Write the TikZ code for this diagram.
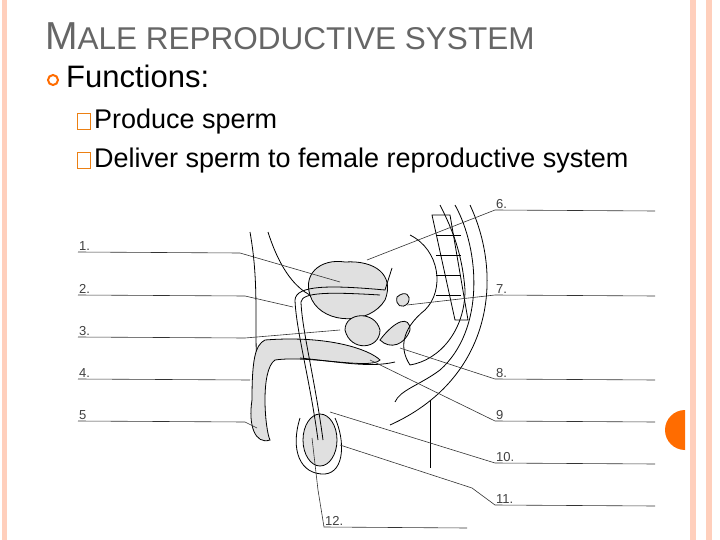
\documentclass[tikz,border=0pt]{standalone}
\usepackage{fontspec}
\setmainfont{Liberation Sans}
\begin{document}
\begin{tikzpicture}[x=1pt,y=-1pt,
  lbl/.style={anchor=south west,inner sep=1pt,font=\fontsize{13}{13}\selectfont,text=black!75},
  lead/.style={draw=black!80,line width=0.6pt},
  org/.style={draw=black,line width=0.8pt},
  dots/.style={org,fill=black!12}]
\useasboundingbox (0,0) rectangle (720,540);
\fill[white] (0,0) rectangle (720,540);
% borders
\fill[orange!25!pink!60] (2,0) rectangle (7,540);
\fill[orange!25!pink!60] (690,0) rectangle (696,540);
\fill[orange!25!pink!60] (706,0) rectangle (712,540);
\fill[orange!85!red] (685,450) arc (90:270:20) -- cycle;
% title
\node[anchor=base west,inner sep=0,text=black!60] (title) at (45,50)
 {\fontsize{39}{39}\selectfont M\fontsize{31.5}{31.5}\selectfont ALE REPRODUCTIVE SYSTEM};
\draw[orange!85!red,line width=2pt] (53,80) circle (5);
\node[anchor=base west,inner sep=0] (fun) at (66,88) {\fontsize{31}{31}\selectfont Functions:};
\draw[orange!70!brown,line width=1pt] (77,114) rectangle (90,130);
\node[anchor=base west,inner sep=0] (p1) at (94,129) {\fontsize{27}{27}\selectfont Produce sperm};
\draw[orange!70!brown,line width=1pt] (77,153) rectangle (90,169);
\node[anchor=base west,inner sep=0] (p2) at (94,168) {\fontsize{27}{27}\selectfont Deliver sperm to female reproductive system};
% anatomy (simplified)
\draw[org] (250,232) .. controls (262,300) and (250,340) .. (262,420);
\draw[org] (268,232) .. controls (280,270) and (300,300) .. (330,300);
\draw[dots] (345,262) .. controls (320,258) and (300,275) .. (312,300) .. controls (325,325) and (370,325) .. (385,300) .. controls (395,275) and (375,260) .. (345,262) -- cycle;
\draw[dots] (345,330) .. controls (345,312) and (375,310) .. (380,330) .. controls (380,350) and (350,352) .. (345,330) -- cycle;
\draw[dots] (380,340) .. controls (395,320) and (410,315) .. (410,330) .. controls (405,345) and (390,350) .. (380,340) -- cycle;
\draw[dots] (397,297) .. controls (405,290) and (412,295) .. (408,303) .. controls (402,310) and (395,305) .. (397,297) -- cycle;
% penis
\draw[dots] (265,340) .. controls (330,335) and (370,350) .. (380,360) .. controls (370,370) and (310,355) .. (275,360) .. controls (260,370) and (265,430) .. (270,440) .. controls (255,445) and (248,425) .. (252,400) .. controls (252,360) and (255,345) .. (265,340) -- cycle;
\draw[org] (300,358) .. controls (340,362) and (370,368) .. (395,362);
% testis
\draw[dots] (320,440) ellipse (17 and 26);
\draw[org] (300,418) .. controls (290,450) and (300,475) .. (325,474) .. controls (345,472) and (345,440) .. (335,418);
% vas deferens
\draw[org] (318,440) .. controls (310,380) and (296,330) .. (295,300) .. controls (296,285) and (330,285) .. (385,290) -- (392,268);
\draw[org] (323,440) .. controls (315,380) and (302,330) .. (301,302) .. controls (302,292) and (330,292) .. (380,295);
% rectum & spine
\draw[org] (410,235) .. controls (440,250) and (445,290) .. (425,310) .. controls (400,330) and (400,350) .. (410,365) .. controls (440,360) and (465,330) .. (465,290) .. controls (462,250) and (450,225) .. (440,205);
\draw[org] (455,205) .. controls (480,250) and (485,330) .. (440,370) .. controls (420,385) and (400,390) .. (395,402);
\draw[org] (432,215) -- (450,215) -- (468,320) -- (455,320) -- cycle;
\foreach \y in {235,255,275,295} \draw[org] (436,\y) -- (461,\y);
\draw[org] (470,205) .. controls (505,280) and (490,380) .. (390,425);
\draw[org] (430,400) -- (430,468);
% left labels
\node[lbl] (l1) at (78,252) {1.};
\node[lbl] (l2) at (78,295) {2.};
\node[lbl] (l3) at (78,337) {3.};
\node[lbl] (l4) at (78,379) {4.};
\node[lbl] (l5) at (78,421) {5};
\coordinate (e1) at (240,253); \coordinate (t1) at (340,282);
\coordinate (e2) at (245,296); \coordinate (t2) at (293,307);
\coordinate (e3) at (245,338); \coordinate (t3) at (340,330);
\coordinate (e4) at (250,380);
\coordinate (e5) at (245,422); \coordinate (t5) at (257,428);
\draw[lead] (l1.south west) -- (e1) -- (t1);
\draw[lead] (l2.south west) -- (e2) -- (t2);
\draw[lead] (l3.south west) -- (e3) -- (t3);
\draw[lead] (l4.south west) -- (e4);
\draw[lead] (l5.south west) -- (e5) -- (t5);
% right labels
\node[lbl] (r6) at (495,210) {6.};
\node[lbl] (r7) at (495,295) {7.};
\node[lbl] (r8) at (495,379) {8.};
\node[lbl] (r9) at (495,421) {9};
\node[lbl] (r10) at (495,463) {10.};
\node[lbl] (r11) at (495,505) {11.};
\node[lbl] (r12) at (324,527) {12.};
\coordinate (f6) at (655,211); \coordinate (f7) at (655,296); \coordinate (f8) at (655,380);
\coordinate (f9) at (655,422); \coordinate (f10) at (655,464); \coordinate (f11) at (655,506);
\coordinate (f12) at (467,528);
\draw[lead] (f6) -- (r6.south west) -- (367,260);
\draw[lead] (f7) -- (r7.south west) -- (407,305);
\draw[lead] (f8) -- (r8.south west) -- (400,348);
\draw[lead] (f9) -- (r9.south west) -- (370,360);
\draw[lead] (f10) -- (r10.south west) -- (330,412);
\draw[lead] (f11) -- (r11.south west) -- (472,488) -- (340,445);
\draw[lead] (f12) -- (r12.south west) -- (318,490) -- (312,438);
\end{tikzpicture}
\end{document}
